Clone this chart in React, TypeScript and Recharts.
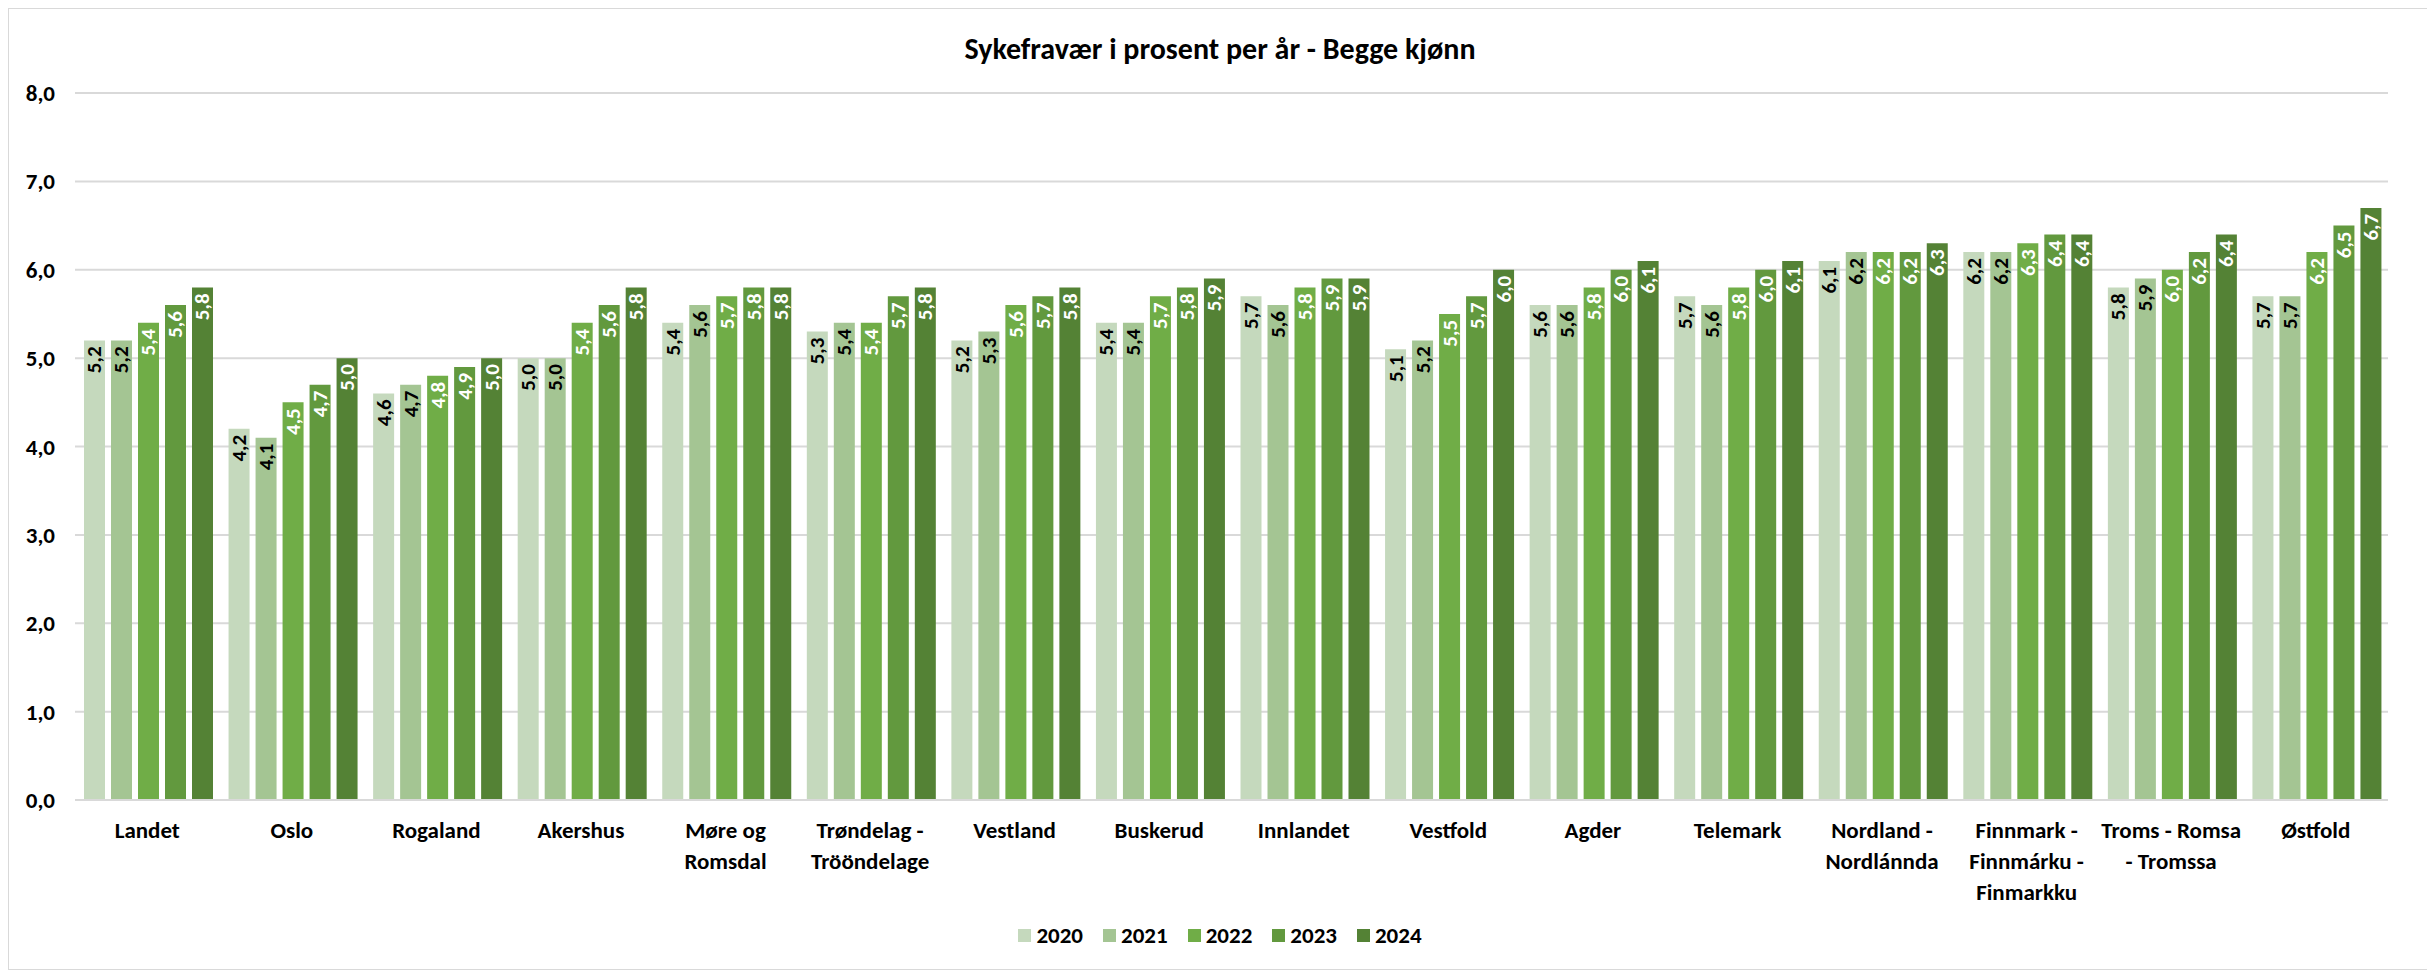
import React from "react";
import { Bar, BarChart, CartesianGrid, LabelList, Legend, XAxis, YAxis } from "recharts";

const regions = [
  "Landet",
  "Oslo",
  "Rogaland",
  "Akershus",
  "Møre og\nRomsdal",
  "Trøndelag -\nTrööndelage",
  "Vestland",
  "Buskerud",
  "Innlandet",
  "Vestfold",
  "Agder",
  "Telemark",
  "Nordland -\nNordlánnda",
  "Finnmark -\nFinnmárku -\nFinmarkku",
  "Troms - Romsa\n- Tromssa",
  "Østfold",
];

const years = ["2020", "2021", "2022", "2023", "2024"];

const v2020 = [5.2, 4.2, 4.6, 5.0, 5.4, 5.3, 5.2, 5.4, 5.7, 5.1, 5.6, 5.7, 6.1, 6.2, 5.8, 5.7];
const v2021 = [5.2, 4.1, 4.7, 5.0, 5.6, 5.4, 5.3, 5.4, 5.6, 5.2, 5.6, 5.6, 6.2, 6.2, 5.9, 5.7];
const v2022 = [5.4, 4.5, 4.8, 5.4, 5.7, 5.4, 5.6, 5.7, 5.8, 5.5, 5.8, 5.8, 6.2, 6.3, 6.0, 6.2];
const v2023 = [5.6, 4.7, 4.9, 5.6, 5.8, 5.7, 5.7, 5.8, 5.9, 5.7, 6.0, 6.0, 6.2, 6.4, 6.2, 6.5];
const v2024 = [5.8, 5.0, 5.0, 5.8, 5.8, 5.8, 5.8, 5.9, 5.9, 6.0, 6.1, 6.1, 6.3, 6.4, 6.4, 6.7];

const yTicks = [0, 1, 2, 3, 4, 5, 6, 7, 8];

const series = [v2020, v2021, v2022, v2023, v2024];
const colors = ["#C5D9BD", "#A4C593", "#70AD47", "#62993E", "#548235"];
const labelColors = ["#000000", "#000000", "#ffffff", "#ffffff", "#ffffff"];

const data = regions.map((name, i) => {
  const row: any = { name };
  years.forEach((y, j) => (row[y] = series[j][i]));
  return row;
});

const FONT = "Carlito, Lato, 'Liberation Sans', sans-serif";
const fmt = (v: number) => v.toFixed(1).replace(".", ",");

function XTick({ x, y, payload }: any) {
  const lines = String(payload.value).split("\n");
  return (
    <text x={x} y={y} textAnchor="middle" fontSize={23} fontWeight={700} fill="#000" fontFamily={FONT}>
      {lines.map((l, i) => (
        <tspan key={i} x={x} y={y + 30 + i * 31} dominantBaseline="central">
          {l}
        </tspan>
      ))}
    </text>
  );
}

function YTick({ x, y, payload }: any) {
  return (
    <text x={x} y={y} dy="0.35em" textAnchor="end" fontSize={23} fontWeight={700} fill="#000" fontFamily={FONT}>
      {fmt(payload.value)}
    </text>
  );
}

const makeLabel = (color: string) => (props: any) => {
  const { x, y, width, value } = props;
  const cx = x + width / 2;
  const ty = y + 6;
  return (
    <text
      x={cx}
      y={ty}
      transform={`rotate(-90 ${cx} ${ty})`}
      textAnchor="end"
      dominantBaseline="central"
      fontSize={21}
      fontWeight={700}
      fill={color}
      fontFamily={FONT}
    >
      {fmt(value)}
    </text>
  );
};

function LegendBox() {
  return (
    <div style={{ display: "flex", justifyContent: "center", alignItems: "center", fontFamily: FONT }}>
      {years.map((y, i) => (
        <div key={y} style={{ display: "flex", alignItems: "center", margin: "0 10px" }}>
          <span style={{ width: 13, height: 13, background: colors[i], display: "inline-block", marginRight: 5 }} />
          <span style={{ fontSize: 23, fontWeight: 700, color: "#000" }}>{y}</span>
        </div>
      ))}
    </div>
  );
}

export default function App() {
  return (
    <div
      style={{
        position: "relative",
        width: 2424,
        height: 962,
        border: "1px solid #d9d9d9",
        boxSizing: "border-box",
        background: "#fff",
      }}
    >
      <div
        style={{
          position: "absolute",
          top: 21,
          left: 0,
          width: "100%",
          textAlign: "center",
          fontFamily: FONT,
          fontWeight: 700,
          fontSize: 30,
          color: "#000",
        }}
      >
        Sykefravær i prosent per år - Begge kjønn
      </div>
      <BarChart
        width={2422}
        height={960}
        data={data}
        margin={{ top: 84, right: 43, left: 0, bottom: 59 }}
        barCategoryGap={9}
        barGap={6}
      >
        <CartesianGrid vertical={false} stroke="#d9d9d9" strokeWidth={2} />
        <XAxis
          dataKey="name"
          interval={0}
          height={110}
          tickLine={false}
          tickSize={0}
          tickMargin={0}
          axisLine={{ stroke: "#d9d9d9", strokeWidth: 2 }}
          tick={<XTick />}
        />
        <YAxis
          domain={[0, 8]}
          ticks={yTicks}
          width={66}
          axisLine={false}
          tickLine={false}
          tickSize={0}
          tickMargin={20}
          tick={<YTick />}
        />
        <Legend
          verticalAlign="middle"
          content={<LegendBox />}
          wrapperStyle={{ top: 912, left: 0, width: "100%" }}
        />
        {years.map((y, i) => (
          <Bar key={y} dataKey={y} fill={colors[i]} isAnimationActive={false}>
            <LabelList dataKey={y} content={makeLabel(labelColors[i])} />
          </Bar>
        ))}
      </BarChart>
    </div>
  );
}
